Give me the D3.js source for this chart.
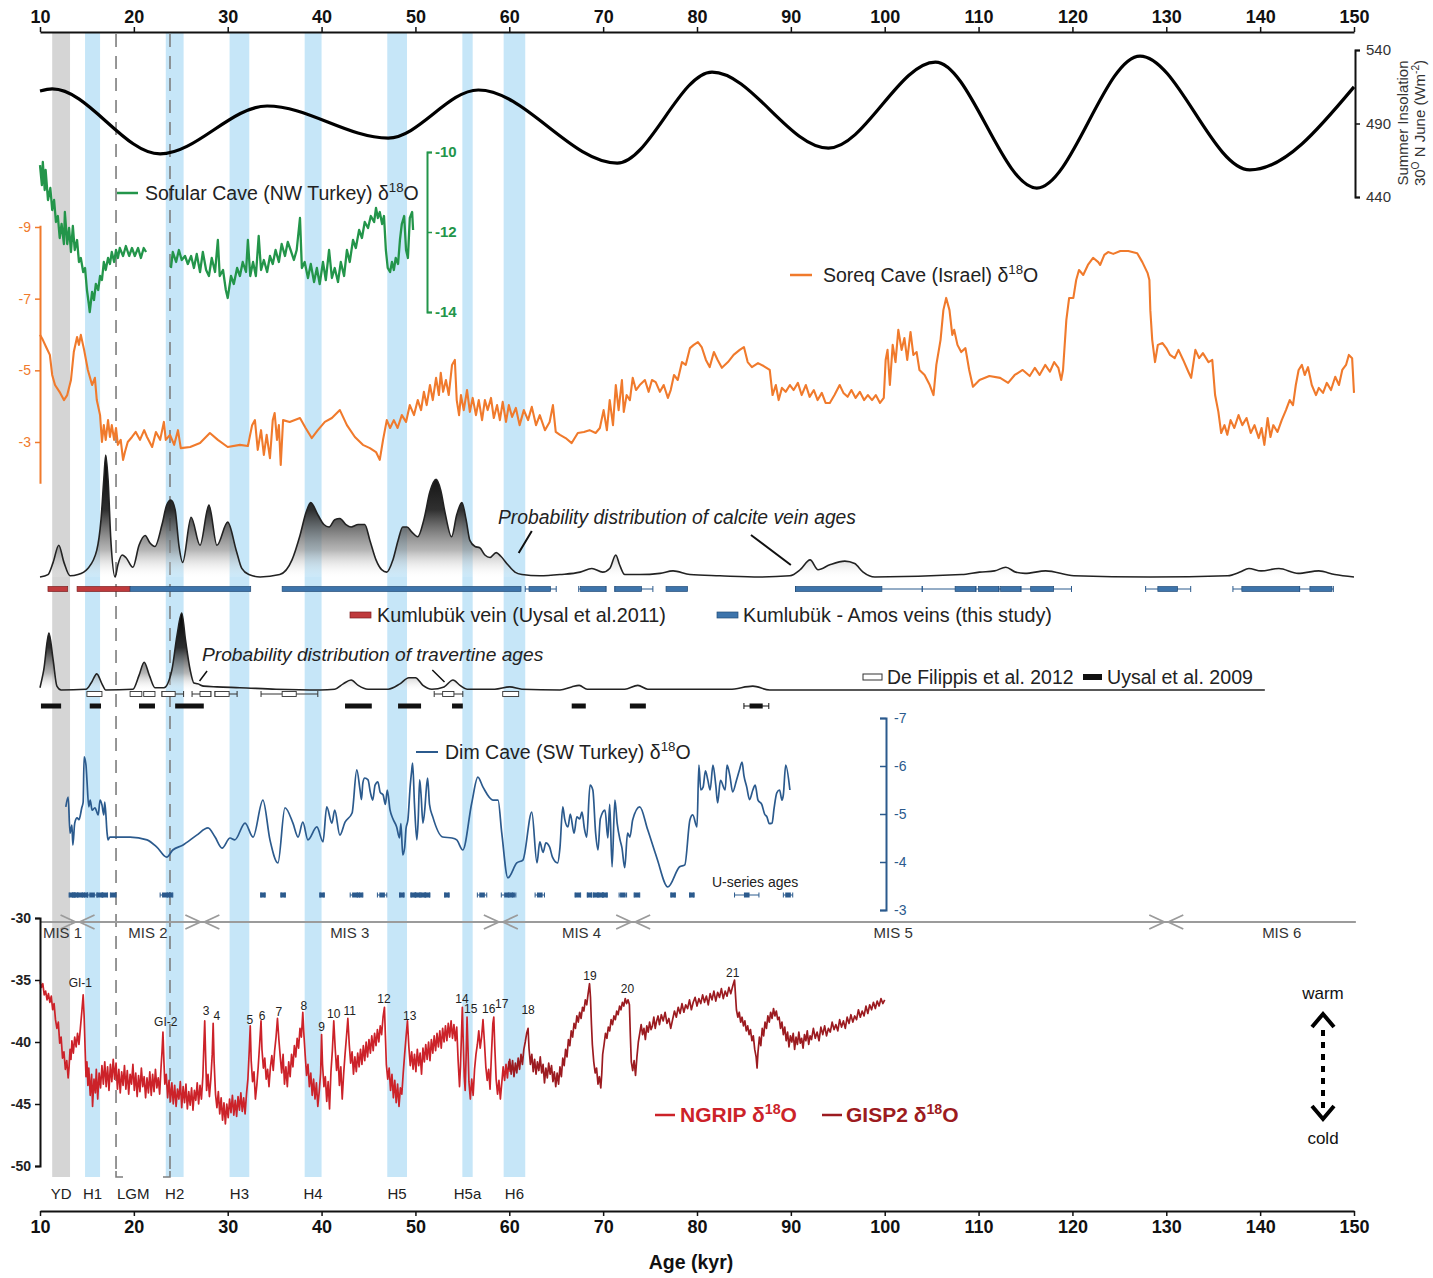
<!DOCTYPE html>
<html><head><meta charset="utf-8">
<script src="https://cdn.jsdelivr.net/npm/d3@7"></script>
<style>
body{margin:0;background:#fff}
svg{display:block;font-family:"Liberation Sans",Arial,Helvetica,sans-serif}
</style>
</head><body>
<svg id="chart" width="1433" height="1278"></svg>
<script>
// ---------------- DATA ----------------
const ageTicks = [10,20,30,40,50,60,70,80,90,100,110,120,130,140,150];

// Event bands (ka)
const bandNames = ["YD","H1","H2","H3","H4","H5","H5a","H6"];
const bandStart = [11.3,14.8,23.4,30.2,38.2,47.0,55.0,59.4];
const bandEnd   = [13.2,16.4,25.3,32.3,40.0,49.1,56.1,61.7];
const lgmBounds = [18.1,23.85];

// Summer insolation 30N June (W/m2)
const insAges = [10,11.3,22.8,34.2,47.1,56.7,71.5,81.6,94.0,105.4,116.2,127.2,138.9,150];
const insVals = [512.1,513.5,469.3,501.9,480.1,512.8,463.1,525.0,473.3,531.8,446.1,535.9,458.4,514.9];
const insTicks = [440,490,540];

// Sofular Cave d18O (two segments)
const sofularA = [[10.0,-10.33],[10.2,-10.83],[10.3,-10.25],[10.5,-10.95],[10.6,-10.45],[10.85,-11.2],[11.1,-10.9],[11.3,-11.45],[11.5,-11.2],[11.7,-11.75],[11.9,-11.6],[12.1,-12.15],[12.3,-11.8],[12.55,-12.3],[12.65,-11.5],[12.9,-12.3],[13.1,-11.9],[13.3,-12.5],[13.5,-11.85],[13.7,-12.45],[13.95,-12.2],[14.15,-12.75],[14.35,-12.65],[14.6,-13.0],[14.8,-12.9],[15.0,-13.45],[15.2,-13.8],[15.3,-14.0],[15.55,-13.5],[15.75,-13.7],[15.95,-13.3],[16.2,-13.45],[16.4,-13.1],[16.6,-13.2],[16.8,-12.75],[17.0,-12.95],[17.25,-12.65],[17.45,-12.8],[17.65,-12.5],[17.9,-12.75],[18.1,-12.45],[18.3,-12.65],[18.5,-12.4],[18.85,-12.6],[19.15,-12.35],[19.5,-12.6],[19.8,-12.4],[20.1,-12.6],[20.45,-12.4],[20.75,-12.65],[21.05,-12.4],[21.3,-12.5]];
const sofularB = [[23.95,-12.9],[24.15,-12.5],[24.5,-12.75],[24.8,-12.45],[25.1,-12.7],[25.45,-12.6],[25.75,-12.8],[26.1,-12.6],[26.4,-12.9],[26.7,-12.55],[27.05,-13.0],[27.35,-12.5],[27.7,-12.95],[28.0,-13.1],[28.3,-12.65],[28.65,-13.0],[28.95,-12.2],[29.15,-13.1],[29.5,-12.95],[29.8,-13.45],[30.0,-13.65],[30.35,-13.1],[30.65,-13.3],[31.0,-12.9],[31.3,-13.1],[31.6,-12.75],[31.95,-13.0],[32.15,-12.2],[32.4,-13.1],[32.7,-12.75],[33.0,-13.1],[33.3,-12.1],[33.55,-12.95],[33.85,-12.7],[34.2,-13.0],[34.5,-12.6],[34.8,-12.8],[35.1,-12.45],[35.45,-12.75],[35.75,-12.3],[36.1,-12.6],[36.4,-12.25],[36.7,-12.45],[37.05,-12.7],[37.35,-12.45],[37.7,-11.65],[37.9,-12.9],[38.2,-12.75],[38.55,-13.15],[38.85,-12.8],[39.2,-13.25],[39.5,-12.9],[39.8,-13.3],[40.15,-12.75],[40.45,-13.2],[40.8,-12.45],[41.1,-13.15],[41.4,-12.9],[41.75,-13.25],[42.05,-12.75],[42.4,-13.1],[42.7,-12.45],[43.0,-12.75],[43.35,-12.2],[43.65,-12.4],[44.0,-11.95],[44.3,-12.15],[44.6,-11.75],[44.95,-11.9],[45.25,-11.6],[45.6,-11.75],[45.8,-11.4],[46.0,-11.65],[46.2,-11.5],[46.45,-11.8],[46.65,-11.6],[46.85,-12.45],[47.05,-12.9],[47.3,-13.0],[47.5,-12.75],[47.7,-12.95],[47.9,-12.65],[48.15,-12.8],[48.35,-12.2],[48.55,-11.8],[48.8,-11.6],[49.0,-12.45],[49.2,-12.65],[49.4,-11.65],[49.65,-11.5],[49.75,-11.95]];
const sofTicks = [-10,-12,-14];

// Soreq Cave d18O
const soreq = [[10.0,-5.99],[10.3,-5.85],[10.65,-5.65],[11.05,-5.43],[11.3,-4.87],[11.6,-4.59],[12.15,-4.37],[12.55,-4.17],[12.9,-4.31],[13.3,-4.73],[13.6,-5.51],[13.95,-5.93],[14.15,-5.71],[14.35,-5.99],[14.7,-5.57],[15.1,-5.01],[15.55,-4.59],[15.85,-4.79],[16.05,-4.17],[16.4,-3.75],[16.6,-3.0],[16.8,-3.47],[17.0,-3.06],[17.25,-3.61],[17.45,-3.14],[17.65,-3.47],[17.9,-3.06],[18.1,-3.39],[18.3,-2.92],[18.6,-3.06],[18.85,-2.5],[19.05,-2.72],[19.35,-3.0],[19.8,-3.14],[20.2,-3.28],[20.65,-3.06],[21.1,-3.33],[21.4,-3.14],[21.95,-2.86],[22.35,-3.28],[22.8,-3.06],[23.2,-3.56],[23.4,-3.06],[23.85,-3.2],[24.3,-2.92],[24.7,-3.33],[25.0,-2.83],[26.0,-2.86],[27.05,-2.97],[28.1,-3.25],[28.95,-3.06],[30.0,-2.86],[31.3,-2.92],[32.15,-2.89],[32.6,-3.47],[32.9,-3.61],[33.2,-2.78],[33.55,-3.33],[33.85,-2.64],[34.15,-3.2],[34.5,-2.55],[34.8,-3.61],[35.0,-3.81],[35.25,-3.06],[35.45,-3.47],[35.65,-2.36],[35.9,-3.61],[36.6,-3.56],[37.7,-3.67],[38.3,-3.39],[38.95,-3.11],[39.6,-3.33],[40.35,-3.56],[41.1,-3.67],[41.95,-3.89],[42.7,-3.47],[43.55,-3.14],[44.4,-2.92],[45.15,-2.83],[45.8,-2.72],[46.2,-2.5],[46.55,-3.06],[46.95,-3.61],[47.3,-3.39],[47.7,-3.61],[48.1,-3.39],[48.55,-3.75],[49.0,-3.56],[49.4,-4.03],[49.85,-3.75],[50.25,-4.17],[50.6,-3.89],[50.9,-4.4],[51.2,-4.03],[51.55,-4.59],[51.85,-4.17],[52.2,-4.79],[52.5,-4.31],[52.7,-4.93],[52.95,-4.4],[53.25,-4.73],[53.55,-4.31],[53.9,-5.15],[54.2,-5.29],[54.4,-4.17],[54.65,-3.75],[54.85,-4.31],[55.15,-3.89],[55.5,-4.45],[55.8,-3.84],[56.1,-4.23],[56.45,-3.75],[56.75,-4.17],[57.1,-3.61],[57.4,-4.17],[57.7,-3.89],[58.05,-4.23],[58.35,-3.67],[58.7,-4.03],[59.0,-3.61],[59.3,-4.12],[59.65,-3.56],[59.95,-4.03],[60.3,-3.7],[60.7,-3.95],[61.1,-3.47],[61.55,-3.89],[62.0,-3.61],[62.4,-3.98],[62.85,-3.47],[63.25,-3.75],[63.8,-3.33],[64.3,-3.56],[64.65,-4.03],[64.95,-3.28],[65.4,-3.2],[66.0,-3.11],[66.65,-2.97],[67.3,-3.25],[67.95,-3.28],[68.55,-3.33],[69.2,-3.25],[69.65,-3.39],[70.05,-3.89],[70.4,-3.33],[70.7,-4.17],[71.05,-3.47],[71.35,-4.59],[71.65,-3.89],[72.0,-4.73],[72.2,-3.84],[72.5,-4.31],[72.85,-4.17],[73.15,-4.79],[73.5,-4.45],[73.9,-4.59],[74.45,-4.73],[74.85,-4.4],[75.2,-4.73],[75.6,-4.67],[76.05,-4.4],[76.45,-4.59],[76.9,-4.23],[77.2,-4.45],[77.55,-4.87],[77.95,-4.73],[78.4,-5.23],[78.8,-5.15],[79.25,-5.62],[79.65,-5.71],[80.1,-5.79],[80.5,-5.65],[80.95,-5.29],[81.35,-5.09],[81.8,-5.51],[82.2,-5.29],[82.65,-5.07],[83.3,-5.23],[83.9,-5.43],[84.55,-5.57],[85.0,-5.65],[85.4,-5.23],[85.85,-5.09],[86.5,-5.2],[87.1,-5.12],[87.75,-5.01],[88.05,-4.31],[88.4,-4.59],[88.7,-4.17],[89.05,-4.51],[89.45,-4.4],[89.9,-4.59],[90.3,-4.45],[90.75,-4.65],[91.15,-4.31],[91.6,-4.59],[92.0,-4.26],[92.45,-4.45],[92.85,-4.17],[93.3,-4.37],[93.7,-4.09],[94.15,-4.09],[94.65,-4.31],[95.2,-4.59],[95.6,-4.37],[96.05,-4.26],[96.45,-4.45],[96.9,-4.23],[97.35,-4.4],[97.8,-4.17],[98.2,-4.31],[98.65,-4.17],[99.05,-4.31],[99.5,-4.09],[99.9,-4.23],[100.1,-5.29],[100.3,-5.57],[100.55,-4.59],[100.85,-5.71],[101.15,-5.23],[101.45,-6.13],[101.8,-5.57],[102.1,-5.9],[102.4,-5.29],[102.75,-6.07],[103.05,-5.43],[103.4,-5.51],[103.7,-5.01],[104.25,-4.87],[104.8,-4.59],[105.2,-4.31],[105.5,-5.15],[105.95,-5.85],[106.25,-6.68],[106.55,-7.02],[106.9,-6.68],[107.2,-5.99],[107.4,-6.13],[107.75,-5.71],[108.15,-5.51],[108.6,-5.62],[109.0,-5.01],[109.4,-4.54],[110.1,-4.73],[111.15,-4.84],[112.3,-4.79],[113.15,-4.65],[113.85,-4.87],[114.7,-5.01],[115.45,-4.84],[116.0,-5.07],[116.5,-4.87],[117.1,-5.15],[117.6,-4.96],[118.05,-5.23],[118.5,-5.07],[118.8,-4.73],[119.0,-5.01],[119.35,-6.4],[119.65,-7.02],[120.1,-7.02],[120.4,-7.52],[120.7,-7.8],[121.15,-7.66],[121.65,-7.94],[122.2,-8.14],[122.75,-8.02],[122.95,-7.94],[123.4,-8.22],[123.8,-8.3],[124.35,-8.25],[125.1,-8.33],[125.95,-8.33],[126.9,-8.27],[127.45,-8.02],[128.0,-7.72],[128.2,-7.52],[128.3,-6.68],[128.5,-5.85],[128.8,-5.23],[129.1,-5.71],[129.6,-5.76],[130.0,-5.62],[130.4,-5.43],[130.9,-5.34],[131.3,-5.57],[131.8,-5.29],[132.35,-4.96],[132.65,-4.79],[133.1,-5.57],[133.5,-5.34],[133.9,-5.48],[134.5,-5.23],[134.9,-5.29],[135.2,-4.31],[135.55,-3.84],[135.85,-3.25],[136.2,-3.47],[136.5,-3.2],[136.85,-3.61],[137.25,-3.39],[137.7,-3.75],[138.1,-3.47],[138.55,-3.67],[139.0,-3.25],[139.4,-3.47],[139.85,-3.11],[140.15,-3.39],[140.45,-2.92],[140.8,-3.67],[141.1,-3.14],[141.4,-3.47],[141.85,-3.28],[142.3,-3.61],[142.75,-3.89],[143.15,-4.17],[143.5,-4.03],[143.8,-4.59],[144.1,-5.01],[144.45,-5.15],[144.75,-4.87],[145.1,-5.09],[145.5,-4.59],[145.95,-4.31],[146.25,-4.51],[146.7,-4.37],[147.1,-4.65],[147.55,-4.45],[148.0,-4.82],[148.4,-4.59],[148.75,-5.01],[149.15,-5.15],[149.45,-5.43],[149.8,-5.34],[150.0,-4.37]];
const soreqTicks = [-9,-7,-5,-3];

// Probability distribution of calcite vein ages (relative)
const calcite = [[10.0,0],[10.85,0.02],[11.4,0.12],[12.0,0.26],[12.55,0.12],[13.2,0.01],[14.05,0.02],[15.1,0.07],[16.05,0.22],[16.5,0.47],[16.8,0.8],[17.0,1.0],[17.25,0.8],[17.55,0.3],[18.0,0],[18.3,0.1],[18.75,0.18],[19.15,0.16],[19.9,0.08],[20.55,0.26],[21.2,0.34],[21.7,0.28],[22.25,0.25],[23.0,0.43],[23.5,0.59],[23.95,0.63],[24.4,0.55],[24.8,0.26],[25.2,0.12],[26.1,0.49],[27.05,0.26],[28.0,0.59],[28.85,0.26],[30.0,0.45],[30.9,0.22],[31.5,0.07],[32.25,0.02],[33.45,0],[35.55,0.02],[36.85,0.14],[37.7,0.34],[38.35,0.53],[38.85,0.61],[39.6,0.51],[40.25,0.43],[40.8,0.41],[41.4,0.47],[41.95,0.48],[42.6,0.43],[43.15,0.41],[43.9,0.43],[44.6,0.43],[45.15,0.3],[45.8,0.14],[46.4,0.06],[46.95,0.04],[47.6,0.14],[48.15,0.3],[48.65,0.41],[49.1,0.41],[49.6,0.37],[50.25,0.33],[50.9,0.47],[51.55,0.7],[52.2,0.8],[52.7,0.71],[53.15,0.53],[53.85,0.33],[54.4,0.51],[54.95,0.61],[55.4,0.47],[55.8,0.3],[56.35,0.25],[56.85,0.24],[57.4,0.18],[57.95,0.16],[58.6,0.2],[59.1,0.17],[59.85,0.1],[60.6,0.04],[61.35,0.02],[63.25,0.01],[65.4,0.02],[67.55,0.04],[68.8,0.07],[69.95,0.04],[70.7,0.07],[71.35,0.18],[71.75,0.1],[72.3,0.02],[73.9,0.02],[76.05,0.03],[77.45,0.05],[79.25,0.02],[82.45,0.01],[86.7,0],[89.9,0.01],[91.0,0.06],[92.05,0.14],[92.9,0.06],[94.15,0.1],[95.75,0.13],[96.8,0.11],[97.7,0.04],[98.95,0],[108.2,0.02],[110.1,0.04],[111.7,0.05],[112.9,0.08],[113.95,0.04],[114.95,0.03],[117.15,0.05],[120.15,0.01],[128.3,0],[136.55,0.01],[137.85,0.04],[138.8,0.07],[140.1,0.05],[142.0,0.07],[144.05,0.03],[146.25,0.05],[147.95,0.02],[150.0,0]];

// Kumlubük vein ages
const kumRed = [[10.85,12.95],[13.95,19.6]];
const kumBlue = [[19.6,19.6,32.45,32.45],[35.8,35.8,61.25,61.25],[61.7,62.1,64.4,65.0],[67.4,67.6,70.3,70.3],[71.25,71.25,74.1,75.3],[76.7,76.7,79.0,79.0],[90.5,90.5,99.7,104.0],[104.0,107.5,109.7,109.7],[109.7,110.0,112.15,112.15],[112.15,112.35,114.5,114.5],[114.5,115.55,118.0,119.9],[127.8,129.1,131.2,132.6],[137.1,138.05,144.2,144.2],[144.2,145.3,147.65,147.8]];

// Probability distribution of travertine ages (relative)
const travertine = [[10.0,0.03],[10.4,0.26],[10.95,0.74],[11.4,0.39],[11.8,0.05],[12.25,0],[14.9,0.01],[15.45,0.09],[16.05,0.21],[16.6,0.08],[17.0,0],[19.9,0.01],[20.55,0.19],[21.1,0.36],[21.65,0.19],[22.25,0.03],[23.2,0.03],[24.05,0.26],[24.6,0.71],[25.1,1.0],[25.5,0.65],[26.0,0.26],[26.4,0.09],[26.8,0.08],[27.45,0.05],[28.85,0.04],[31.3,0.03],[35.15,0.01],[39.85,0],[41.4,0.01],[42.3,0.08],[43.15,0.13],[43.9,0.06],[44.95,0.01],[47.1,0.01],[48.35,0.08],[49.3,0.16],[50.0,0.16],[50.8,0.06],[51.75,0.01],[53.05,0.04],[54.0,0.13],[54.75,0.06],[55.5,0.01],[58.45,0.01],[60.05,0.04],[61.35,0.01],[65.4,0],[66.65,0.04],[67.45,0.06],[68.3,0.01],[72.3,0.01],[73.7,0.06],[74.75,0.01],[83.5,0.01],[85.95,0.05],[87.75,0],[140.5,0]];
const deFilippis = [[15.0,15.0,16.6,16.6],[19.6,19.6,20.85,20.85],[21.05,21.05,22.25,22.25],[23.0,23.0,24.4,25.3],[26.2,27.05,28.2,28.2],[28.65,28.65,30.15,31.0],[33.55,35.8,37.3,39.6],[52.0,52.9,54.1,55.05],[59.3,59.3,61.0,61.0]];
const uysal2009 = [[10.1,12.25],[15.3,16.5],[20.55,22.25],[24.4,27.45],[42.5,45.35],[48.15,50.6],[53.9,55.05],[66.65,68.15],[72.85,74.55],[85.6,87.0]];

// Dim Cave d18O
const dim = [[12.75,-5.15],[13.0,-5.35],[13.2,-4.6],[13.4,-4.77],[13.5,-4.35],[13.7,-4.81],[13.95,-4.92],[14.15,-4.88],[14.45,-5.13],[14.6,-5.25],[14.7,-6.19],[14.9,-6.02],[15.0,-5.71],[15.2,-5.15],[15.35,-5.29],[15.55,-5.08],[15.85,-5.13],[16.2,-4.98],[16.4,-5.29],[16.6,-5.19],[16.8,-4.98],[16.9,-5.25],[17.15,-4.6],[17.25,-4.46],[17.45,-4.52],[17.8,-4.52],[19.6,-4.52],[21.4,-4.46],[22.45,-4.31],[23.5,-4.1],[24.15,-4.25],[25.2,-4.35],[26.7,-4.56],[27.9,-4.71],[28.65,-4.52],[29.4,-4.29],[30.25,-4.5],[30.75,-4.46],[31.85,-4.81],[32.7,-4.52],[33.75,-5.29],[34.5,-4.46],[35.35,-3.98],[36.1,-5.13],[36.95,-4.81],[37.5,-4.52],[38.0,-4.83],[38.55,-4.46],[39.5,-4.73],[40.15,-4.42],[40.55,-5.15],[41.1,-4.81],[41.4,-5.08],[41.95,-4.56],[42.5,-4.83],[43.25,-5.02],[43.75,-5.92],[44.1,-5.5],[44.25,-5.3],[44.4,-5.65],[44.6,-5.75],[44.95,-5.71],[45.2,-5.45],[45.45,-5.29],[45.7,-5.6],[46.0,-5.67],[46.25,-5.45],[46.55,-5.4],[46.8,-5.2],[47.0,-5.5],[47.3,-5.08],[47.6,-4.9],[48.0,-4.73],[48.3,-4.5],[48.45,-4.8],[48.65,-4.15],[48.85,-4.3],[49.0,-4.7],[49.2,-4.88],[49.45,-5.6],[49.6,-5.9],[49.7,-6.06],[49.9,-5.2],[50.15,-4.46],[50.3,-4.9],[50.45,-5.71],[50.6,-5.4],[50.8,-4.81],[51.0,-5.1],[51.15,-5.5],[51.3,-5.75],[51.5,-5.2],[51.85,-4.94],[52.9,-4.52],[53.9,-4.5],[54.4,-4.46],[55.05,-4.25],[56.0,-5.23],[56.65,-5.77],[57.2,-5.56],[58.25,-5.29],[58.8,-5.29],[59.2,-4.6],[59.85,-3.67],[60.8,-3.98],[61.45,-4.04],[62.4,-5.04],[62.95,-3.98],[63.25,-4.42],[63.6,-4.2],[63.9,-4.4],[64.3,-4.31],[64.6,-4.1],[65.15,-3.98],[65.4,-4.3],[65.7,-5.15],[65.9,-4.9],[66.25,-4.73],[66.5,-5.0],[66.9,-4.6],[67.2,-4.94],[67.5,-4.9],[67.75,-5.04],[68.0,-4.7],[68.25,-4.52],[68.6,-5.6],[68.9,-5.5],[69.2,-4.6],[69.45,-4.25],[69.7,-4.9],[70.2,-5.08],[70.5,-4.5],[70.7,-5.2],[70.95,-3.9],[71.25,-5.29],[71.5,-4.8],[71.8,-4.46],[72.0,-4.3],[72.3,-3.88],[72.6,-4.6],[72.85,-4.52],[73.15,-4.88],[73.9,-5.15],[74.75,-4.67],[75.7,-4.1],[76.9,-3.48],[78.15,-3.9],[78.7,-3.94],[79.25,-4.88],[79.55,-4.98],[80.0,-4.73],[80.2,-6.02],[80.4,-5.5],[80.65,-5.56],[80.9,-5.9],[81.15,-5.71],[81.4,-5.5],[81.7,-6.02],[82.0,-5.6],[82.2,-5.23],[82.5,-5.7],[83.0,-5.5],[83.2,-6.02],[83.5,-5.8],[83.8,-5.46],[84.2,-5.7],[84.5,-5.9],[84.8,-6.08],[85.0,-5.8],[85.3,-5.56],[85.6,-5.3],[85.95,-5.5],[86.2,-5.6],[86.5,-5.29],[86.9,-5.2],[87.2,-5.0],[87.45,-4.94],[87.7,-4.8],[88.0,-4.81],[88.2,-5.1],[88.5,-5.44],[88.8,-5.5],[89.05,-5.29],[89.2,-5.4],[89.45,-6.02],[89.9,-5.5]];
const dimTicks = [-7,-6,-5,-4,-3];
const uSeriesAges = [13.4,13.75,14.25,14.8,15.55,16.4,16.9,17.8,23.3,23.85,33.75,35.9,40.05,43.55,44.1,46.45,48.55,49.75,50.25,50.8,51.3,53.35,57.1,59.75,60.3,63.25,67.3,68.55,69.2,69.75,70.2,72.1,73.6,77.45,79.45,85.3,89.7];
const uSeriesErr  = [0.3,0.3,0.5,0.3,0.5,0.3,0.3,0.3,0.5,0.3,0.2,0.2,0.2,0.5,0.3,0.5,0.2,0.2,0.2,0.2,0.2,0.2,0.5,0.6,0.4,0.5,0.3,0.2,0.2,0.2,0.2,0.4,0.3,0.2,0.2,1.3,0.5];

// Marine isotope stages
const misBounds = [14.0,27.3,59.1,73.2,130.0];
const misLabels = ["MIS 1","MIS 2","MIS 3","MIS 4","MIS 5","MIS 6"];
const misLabelAges = [12.4,21.5,43.0,67.7,100.9,142.3];

// NGRIP d18O
const ngrip = [[10.0,-35.1],[10.15,-35.6],[10.3,-35.3],[10.45,-36.2],[10.6,-35.9],[10.75,-36.6],[10.9,-36.1],[11.05,-36.8],[11.2,-36.3],[11.35,-37.4],[11.5,-36.9],[11.65,-38.2],[11.8,-38.9],[11.95,-38.4],[12.1,-40.1],[12.25,-39.6],[12.4,-41.3],[12.55,-40.8],[12.7,-42.2],[12.85,-41.5],[13.0,-42.9],[13.1,-42.0],[13.2,-40.6],[13.3,-41.4],[13.4,-39.9],[13.55,-40.9],[13.7,-39.6],[13.85,-40.4],[14.0,-39.3],[14.15,-40.2],[14.3,-38.9],[14.45,-37.6],[14.6,-36.2],[14.7,-37.9],[14.8,-40.4],[14.9,-42.8],[15.0,-41.6],[15.1,-43.5],[15.2,-42.1],[15.35,-44.3],[15.5,-42.6],[15.6,-45.2],[15.75,-43.0],[15.9,-44.1],[16.0,-42.2],[16.15,-44.6],[16.3,-42.5],[16.45,-43.7],[16.6,-41.9],[16.75,-43.4],[16.9,-41.6],[17.05,-43.6],[17.2,-42.0],[17.35,-43.9],[17.5,-41.8],[17.65,-43.2],[17.8,-41.4],[17.95,-43.0],[18.1,-41.7],[18.25,-43.8],[18.4,-42.2],[18.55,-44.1],[18.7,-42.4],[18.85,-43.5],[19.0,-41.9],[19.15,-43.8],[19.3,-42.3],[19.45,-44.2],[19.6,-42.6],[19.75,-43.4],[19.9,-41.8],[20.05,-43.9],[20.2,-42.5],[20.35,-44.4],[20.5,-42.7],[20.65,-44.0],[20.8,-42.1],[20.95,-43.6],[21.1,-42.8],[21.25,-44.5],[21.4,-42.9],[21.55,-44.1],[21.7,-42.4],[21.85,-44.3],[22.0,-42.6],[22.15,-44.0],[22.3,-42.2],[22.45,-43.7],[22.6,-42.9],[22.75,-44.2],[22.9,-42.0],[23.0,-40.8],[23.1,-39.2],[23.2,-41.5],[23.3,-43.4],[23.45,-42.6],[23.6,-44.5],[23.75,-43.1],[23.9,-44.8],[24.05,-43.3],[24.2,-45.0],[24.35,-43.5],[24.5,-45.2],[24.65,-43.8],[24.8,-44.6],[24.95,-43.2],[25.1,-45.3],[25.25,-43.6],[25.4,-44.9],[25.55,-43.4],[25.7,-45.4],[25.85,-44.0],[26.0,-45.1],[26.15,-43.7],[26.3,-45.5],[26.45,-43.9],[26.6,-44.7],[26.75,-43.3],[26.9,-45.0],[27.05,-43.5],[27.2,-44.6],[27.35,-42.8],[27.45,-40.5],[27.55,-38.3],[27.65,-41.2],[27.75,-43.9],[27.9,-42.6],[28.05,-44.4],[28.2,-43.0],[28.35,-41.0],[28.45,-38.5],[28.55,-41.6],[28.7,-44.2],[28.85,-45.3],[29.0,-44.0],[29.15,-45.8],[29.3,-44.5],[29.45,-46.3],[29.6,-44.9],[29.75,-46.6],[29.9,-45.0],[30.05,-46.1],[30.2,-44.6],[30.35,-45.7],[30.5,-44.3],[30.65,-45.9],[30.8,-44.7],[30.95,-46.0],[31.1,-44.4],[31.25,-45.5],[31.4,-44.1],[31.55,-45.6],[31.7,-44.5],[31.85,-45.8],[32.0,-44.2],[32.15,-43.0],[32.3,-40.6],[32.4,-38.7],[32.5,-41.5],[32.65,-43.2],[32.8,-42.4],[32.95,-44.6],[33.1,-43.5],[33.25,-42.0],[33.4,-40.2],[33.55,-38.3],[33.65,-40.6],[33.8,-42.1],[33.95,-41.3],[34.1,-43.0],[34.25,-42.2],[34.4,-43.6],[34.55,-42.0],[34.7,-41.1],[34.85,-42.3],[35.0,-40.7],[35.15,-39.6],[35.3,-38.1],[35.45,-39.8],[35.6,-41.2],[35.75,-42.5],[35.9,-41.0],[36.05,-43.4],[36.2,-42.0],[36.35,-43.6],[36.5,-41.6],[36.65,-42.8],[36.8,-41.0],[36.95,-42.0],[37.1,-40.3],[37.25,-41.2],[37.4,-39.7],[37.55,-40.5],[37.7,-38.9],[37.85,-39.6],[38.0,-37.6],[38.1,-39.2],[38.25,-41.0],[38.4,-42.7],[38.55,-41.8],[38.7,-43.6],[38.85,-42.5],[39.0,-44.3],[39.15,-43.0],[39.3,-44.6],[39.45,-43.3],[39.6,-45.2],[39.75,-44.0],[39.9,-42.5],[40.0,-39.4],[40.1,-41.8],[40.25,-43.6],[40.4,-42.8],[40.55,-44.8],[40.7,-43.2],[40.85,-45.4],[41.0,-42.4],[41.15,-40.7],[41.3,-38.3],[41.45,-40.5],[41.6,-42.3],[41.75,-41.1],[41.9,-43.5],[42.05,-42.0],[42.2,-44.6],[42.35,-42.6],[42.5,-41.0],[42.65,-39.6],[42.8,-38.1],[42.95,-40.2],[43.1,-41.7],[43.25,-40.8],[43.4,-42.6],[43.55,-41.2],[43.7,-42.4],[43.85,-40.9],[44.0,-42.0],[44.15,-40.6],[44.3,-41.8],[44.45,-40.3],[44.6,-41.5],[44.75,-40.0],[44.9,-41.2],[45.05,-39.8],[45.2,-40.9],[45.35,-39.5],[45.5,-40.7],[45.65,-39.3],[45.8,-40.3],[45.95,-39.0],[46.1,-40.0],[46.25,-38.7],[46.4,-39.4],[46.55,-38.0],[46.7,-37.2],[46.8,-39.5],[46.9,-41.8],[47.05,-43.0],[47.2,-42.1],[47.35,-43.9],[47.5,-42.6],[47.65,-44.5],[47.8,-43.1],[47.95,-44.9],[48.1,-43.4],[48.25,-45.2],[48.4,-43.7],[48.55,-44.2],[48.7,-42.5],[48.85,-41.0],[49.0,-39.6],[49.15,-38.3],[49.3,-40.4],[49.45,-41.9],[49.6,-40.8],[49.75,-42.2],[49.9,-41.0],[50.05,-42.4],[50.2,-40.6],[50.35,-41.9],[50.5,-40.9],[50.65,-42.6],[50.8,-40.5],[50.95,-41.6],[51.1,-40.2],[51.25,-41.4],[51.4,-40.0],[51.55,-41.5],[51.7,-39.8],[51.85,-40.9],[52.0,-39.5],[52.15,-40.7],[52.3,-39.3],[52.45,-40.4],[52.6,-39.1],[52.75,-40.5],[52.9,-38.9],[53.05,-40.0],[53.2,-38.7],[53.35,-39.9],[53.5,-38.5],[53.65,-39.6],[53.8,-38.3],[53.95,-39.7],[54.1,-38.6],[54.25,-39.9],[54.4,-38.8],[54.55,-41.5],[54.7,-43.6],[54.8,-42.0],[54.9,-39.5],[55.0,-37.2],[55.1,-40.1],[55.2,-42.8],[55.3,-43.9],[55.4,-41.2],[55.5,-38.0],[55.6,-40.5],[55.7,-43.2],[55.85,-44.6],[56.0,-43.0],[56.15,-44.3],[56.3,-42.2],[56.45,-41.0],[56.6,-40.2],[56.75,-39.1],[56.9,-40.5],[57.05,-39.6],[57.2,-38.2],[57.35,-40.0],[57.5,-42.0],[57.65,-43.1],[57.8,-42.2],[57.95,-43.8],[58.1,-41.0],[58.25,-38.5],[58.35,-38.0],[58.45,-40.3],[58.6,-43.0],[58.75,-44.2],[58.9,-43.1],[59.05,-44.6],[59.2,-43.3],[59.35,-42.0],[59.5,-43.1],[59.65,-41.8],[59.8,-42.9],[59.95,-41.6],[60.1,-42.4]];

// GISP2 d18O
const gisp2 = [[59.9,-42.2],[60.05,-41.4],[60.2,-42.6],[60.35,-41.5],[60.5,-42.8],[60.65,-41.7],[60.8,-42.5],[60.95,-41.3],[61.1,-42.2],[61.25,-41.0],[61.4,-41.8],[61.55,-40.6],[61.7,-40.0],[61.85,-39.3],[62.0,-38.9],[62.1,-40.5],[62.25,-41.8],[62.4,-41.0],[62.55,-42.4],[62.7,-41.4],[62.85,-42.6],[63.0,-41.6],[63.15,-42.3],[63.3,-41.2],[63.45,-42.5],[63.6,-41.8],[63.75,-43.3],[63.9,-42.1],[64.05,-42.9],[64.2,-41.7],[64.35,-42.6],[64.5,-41.9],[64.65,-43.2],[64.8,-42.4],[64.95,-43.6],[65.1,-42.5],[65.25,-43.4],[65.4,-42.0],[65.55,-42.8],[65.7,-41.3],[65.85,-41.9],[66.0,-40.6],[66.15,-41.2],[66.3,-39.8],[66.45,-40.3],[66.6,-39.1],[66.75,-39.6],[66.9,-38.5],[67.05,-38.9],[67.2,-37.9],[67.35,-38.4],[67.5,-37.6],[67.65,-38.1],[67.8,-37.2],[67.95,-37.5],[68.1,-36.6],[68.25,-37.0],[68.4,-36.1],[68.55,-35.3],[68.65,-36.4],[68.75,-38.5],[68.85,-40.2],[69.0,-41.6],[69.15,-42.5],[69.3,-42.1],[69.45,-43.4],[69.6,-42.8],[69.75,-43.7],[69.85,-42.6],[69.95,-41.0],[70.1,-40.2],[70.25,-39.3],[70.4,-39.7],[70.55,-38.8],[70.7,-39.1],[70.85,-38.2],[71.0,-38.6],[71.15,-37.9],[71.3,-38.2],[71.45,-37.5],[71.6,-37.8],[71.75,-37.1],[71.9,-37.4],[72.05,-36.8],[72.2,-37.1],[72.35,-36.5],[72.5,-36.9],[72.65,-36.6],[72.8,-37.0],[72.9,-39.5],[73.0,-41.6],[73.15,-42.3],[73.3,-41.5],[73.45,-42.7],[73.6,-41.2],[73.75,-40.0],[73.9,-39.3],[74.05,-38.6],[74.2,-39.4],[74.35,-38.9],[74.5,-39.8],[74.65,-38.7],[74.8,-39.2],[74.95,-38.4],[75.1,-39.0],[75.25,-38.7],[75.4,-38.0],[75.55,-38.9],[75.7,-38.3],[75.85,-37.9],[76.0,-38.6],[76.2,-37.8],[76.4,-38.3],[76.6,-37.6],[76.8,-38.5],[77.0,-38.1],[77.2,-38.9],[77.4,-38.2],[77.6,-37.5],[77.8,-38.0],[78.0,-37.2],[78.2,-37.7],[78.4,-36.9],[78.6,-37.6],[78.8,-37.0],[79.0,-37.3],[79.2,-36.6],[79.4,-37.4],[79.6,-36.8],[79.8,-36.4],[80.0,-37.1],[80.2,-36.5],[80.4,-36.9],[80.6,-36.2],[80.8,-36.8],[81.0,-36.3],[81.2,-37.0],[81.4,-36.1],[81.6,-36.6],[81.8,-35.9],[82.0,-36.7],[82.2,-36.0],[82.4,-36.4],[82.6,-35.7],[82.8,-36.5],[83.0,-35.9],[83.2,-36.3],[83.4,-35.6],[83.6,-36.1],[83.8,-35.5],[84.0,-35.0],[84.1,-36.2],[84.2,-37.4],[84.35,-38.0],[84.5,-37.6],[84.65,-38.4],[84.8,-38.0],[84.95,-38.7],[85.1,-38.3],[85.25,-39.1],[85.4,-38.7],[85.55,-39.4],[85.7,-39.0],[85.85,-39.9],[86.0,-39.5],[86.15,-40.6],[86.3,-41.2],[86.4,-42.1],[86.5,-40.8],[86.65,-39.6],[86.8,-40.3],[86.95,-38.9],[87.1,-39.5],[87.25,-38.4],[87.4,-38.9],[87.55,-37.9],[87.7,-38.4],[87.85,-37.6],[88.0,-38.1],[88.15,-37.3],[88.3,-37.9],[88.45,-37.5],[88.6,-38.2],[88.75,-38.0],[88.9,-38.9],[89.05,-38.4],[89.2,-39.4],[89.35,-38.8],[89.5,-39.9],[89.65,-39.2],[89.8,-40.4],[89.95,-39.5],[90.1,-40.0],[90.25,-39.3],[90.4,-40.6],[90.55,-39.6],[90.7,-40.2],[90.85,-39.2],[91.0,-40.1],[91.15,-39.7],[91.3,-40.5],[91.45,-39.4],[91.6,-39.9],[91.75,-39.1],[91.9,-40.2],[92.05,-39.5],[92.2,-39.8],[92.4,-38.9],[92.6,-39.7],[92.8,-39.2],[93.0,-39.9],[93.2,-38.8],[93.4,-39.4],[93.6,-38.7],[93.8,-39.5],[94.0,-38.9],[94.2,-39.2],[94.4,-38.4],[94.6,-39.0],[94.8,-38.6],[95.0,-39.1],[95.2,-38.2],[95.4,-38.8],[95.6,-38.3],[95.8,-38.9],[96.0,-38.0],[96.2,-38.5],[96.4,-37.8],[96.6,-38.4],[96.8,-37.9],[97.0,-38.2],[97.2,-37.4],[97.4,-38.0],[97.6,-37.5],[97.8,-37.9],[98.0,-37.1],[98.2,-37.7],[98.4,-37.0],[98.6,-37.4],[98.8,-36.8],[99.0,-37.3],[99.2,-36.7],[99.4,-37.1],[99.6,-36.5],[99.8,-36.9],[100.0,-36.6]];
const ngripTicks = [-30,-35,-40,-45,-50];

// Greenland interstadial labels: [label, age, value]
const giLabels = [["GI-1",14.3,-35.2],["GI-2",23.4,-38.4],["3",27.7,-37.5],["4",28.85,-37.9],["5",32.35,-38.2],["6",33.65,-37.9],["7",35.45,-37.6],["8",38.1,-37.1],["9",40.0,-38.8],["10",41.3,-37.7],["11",43.0,-37.5],["12",46.65,-36.5],["13",49.4,-37.9],["14",54.95,-36.5],["15",55.9,-37.3],["16",57.8,-37.3],["17",59.2,-36.9],["18",62.0,-37.4],["19",68.6,-34.7],["20",72.6,-35.7],["21",83.8,-34.4]];

// ---------------- STYLE ----------------
const C = {
  band:"#c6e6f8", yd:"#d5d5d5", dash:"#7d7d7d",
  green:"#23954a", orange:"#f07a2c", blue:"#2b5a8d",
  ngrip:"#cc2229", gisp:"#9c1b20", mis:"#9b9b9b",
  kRed:"#bf3a3c", kBlue:"#3d74ab", text:"#222"
};
const FONT = '"Liberation Sans",Arial,sans-serif';
const plain = d => `${d}`;

// ---------------- RENDER ----------------
const svg = d3.select("#chart");
const x = d3.scaleLinear().domain([10,150]).range([40,1354]);
const bandTop = 32, bandBottom = 1177;

const yIns = d3.scaleLinear().domain([440,540]).range([197,50]);
const ySof = d3.scaleLinear().domain([-14,-10]).range([312,152]);
const ySor = d3.scaleLinear().domain([-9.05,-1.85]).range([225.2,483.2]);
const yCal = d3.scaleLinear().domain([0,1]).range([577,455]);
const yTra = d3.scaleLinear().domain([0,1]).range([690,613]);
const yDim = d3.scaleLinear().domain([-7,-3]).range([718,910]);
const yNg  = d3.scaleLinear().domain([-50,-30]).range([1166,918]);

function rich(g, px, py, parts, fs, opts={}) {
  const t = g.append("text").attr("x",px).attr("y",py).attr("font-size",fs)
    .attr("fill", opts.fill || C.text);
  if (opts.weight) t.attr("font-weight", opts.weight);
  if (opts.anchor) t.attr("text-anchor", opts.anchor);
  if (opts.transform) t.attr("transform", opts.transform);
  let shift = 0;
  parts.forEach(([s, sup]) => {
    const target = sup ? -fs*0.4 : 0;
    const ts = t.append("tspan").text(s).attr("dy", target - shift);
    if (sup) ts.attr("font-size", fs*0.68);
    shift = target;
  });
  return t;
}
const d18 = (pre) => [[pre+"δ"],["18",1],["O"]];

// bands
const gB = svg.append("g");
gB.selectAll("rect").data(bandNames).join("rect")
  .attr("x",(d,i)=>x(bandStart[i])).attr("width",(d,i)=>x(bandEnd[i])-x(bandStart[i]))
  .attr("y",bandTop).attr("height",bandBottom-bandTop)
  .attr("fill",(d,i)=>i===0?C.yd:C.band);
gB.selectAll("text").data(bandNames).join("text")
  .attr("x",(d,i)=>x((bandStart[i]+bandEnd[i])/2)).attr("y",1199)
  .attr("text-anchor","middle").attr("font-size",15).attr("fill",C.text).text(d=>d);
gB.append("text").attr("x",x(lgmBounds[0])+1).attr("y",1199).attr("font-size",15)
  .attr("fill",C.text).text("LGM");
lgmBounds.forEach(a => {
  gB.append("line").attr("x1",x(a)).attr("x2",x(a)).attr("y1",bandTop+2).attr("y2",bandBottom)
    .attr("stroke",C.dash).attr("stroke-width",1.6).attr("stroke-dasharray","13,9");
});
gB.append("path").attr("fill","none").attr("stroke",C.dash).attr("stroke-width",1.6)
  .attr("d",`M${x(lgmBounds[0])},${bandBottom-6}V${bandBottom}h7 M${x(lgmBounds[1])},${bandBottom-6}V${bandBottom}h-7`);

// top & bottom axes
const axTop = svg.append("g").attr("transform","translate(0,32)")
  .call(d3.axisTop(x).tickValues(ageTicks).tickFormat(plain).tickSize(5).tickSizeOuter(0).tickPadding(4));
const axBot = svg.append("g").attr("transform","translate(0,1211)")
  .call(d3.axisBottom(x).tickValues(ageTicks).tickFormat(plain).tickSize(5).tickSizeOuter(0).tickPadding(4));
[axTop, axBot].forEach(a => {
  a.select(".domain").attr("stroke","#111").attr("stroke-width",2);
  a.selectAll(".tick line").attr("stroke","#111").attr("stroke-width",1.5);
  a.selectAll("text").attr("font-size",18).attr("font-weight","bold").attr("fill","#111").attr("font-family",FONT);
});
svg.append("text").attr("x",691).attr("y",1269).attr("text-anchor","middle")
  .attr("font-size",19.5).attr("font-weight","bold").attr("fill","#111").text("Age (kyr)");

// insolation
const insData = insAges.map((a,i)=>[a,insVals[i]]);
svg.append("path").datum(insData).attr("fill","none").attr("stroke","#000").attr("stroke-width",3.2)
  .attr("d", d3.line().x(d=>x(d[0])).y(d=>yIns(d[1])).curve(d3.curveMonotoneX));
const axIns = svg.append("g").attr("transform","translate(1355,0)")
  .call(d3.axisRight(yIns).tickValues(insTicks).tickFormat(plain).tickSize(5).tickPadding(6));
axIns.select(".domain").attr("stroke","#111").attr("stroke-width",2);
axIns.selectAll(".tick line").attr("stroke","#111").attr("stroke-width",1.5);
axIns.selectAll("text").attr("font-size",15).attr("fill","#333").attr("font-family",FONT);
rich(svg,0,0,[["Summer Insolation"]],15,{anchor:"middle",fill:"#333",transform:"translate(1408,123) rotate(-90)"});
rich(svg,0,0,[["30"],["O",1],[" N June (Wm"],["-2",1],[")"]],15,{anchor:"middle",fill:"#333",transform:"translate(1425,123) rotate(-90)"});

// Sofular
const lineXY = (ys) => d3.line().x(d=>x(d[0])).y(d=>ys(d[1]));
[sofularA, sofularB].forEach(seg => {
  svg.append("path").datum(seg).attr("fill","none").attr("stroke",C.green).attr("stroke-width",2.3)
    .attr("stroke-linejoin","round").attr("d", lineXY(ySof));
});
const axSof = svg.append("g").attr("transform","translate(427,0)")
  .call(d3.axisRight(ySof).tickValues(sofTicks).tickFormat(plain).tickSize(5).tickPadding(3));
axSof.select(".domain").attr("stroke",C.green).attr("stroke-width",2);
axSof.selectAll(".tick line").attr("stroke",C.green).attr("stroke-width",1.5);
axSof.selectAll("text").attr("font-size",15).attr("font-weight","bold").attr("fill",C.green).attr("font-family",FONT);
svg.append("line").attr("x1",117).attr("x2",138).attr("y1",193).attr("y2",193).attr("stroke",C.green).attr("stroke-width",2.5);
rich(svg,145,200,d18("Sofular Cave (NW Turkey) "),19.5);

// Soreq
svg.append("path").datum(soreq).attr("fill","none").attr("stroke",C.orange).attr("stroke-width",2.1)
  .attr("stroke-linejoin","round").attr("d", lineXY(ySor));
const axSor = svg.append("g").attr("transform","translate(40,0)")
  .call(d3.axisLeft(ySor).tickValues(soreqTicks).tickFormat(plain).tickSize(5).tickSizeOuter(0).tickPadding(4));
axSor.select(".domain").attr("stroke",C.orange).attr("stroke-width",2);
axSor.selectAll(".tick line").attr("stroke",C.orange).attr("stroke-width",1.5);
axSor.selectAll("text").attr("font-size",14).attr("fill",C.orange).attr("font-family",FONT);
svg.append("line").attr("x1",790).attr("x2",812).attr("y1",275).attr("y2",275).attr("stroke",C.orange).attr("stroke-width",2.5);
rich(svg,823,282,d18("Soreq Cave (Israel) "),19.5);

// gradients
const defs = svg.append("defs");
function grad(id, yTop, yBot) {
  const g = defs.append("linearGradient").attr("id",id).attr("gradientUnits","userSpaceOnUse")
    .attr("x1",0).attr("x2",0).attr("y1",yTop).attr("y2",yBot);
  g.append("stop").attr("offset","0%").attr("stop-color","#000").attr("stop-opacity",1);
  g.append("stop").attr("offset","45%").attr("stop-color","#252525").attr("stop-opacity",0.95);
  g.append("stop").attr("offset","78%").attr("stop-color","#858585").attr("stop-opacity",0.6);
  g.append("stop").attr("offset","100%").attr("stop-color","#ffffff").attr("stop-opacity",0.1);
}
grad("gCal", yCal(1), yCal(0));
grad("gTra", yTra(1), yTra(0));

// calcite probability
const areaCal = d3.area().x(d=>x(d[0])).y0(yCal(0)).y1(d=>yCal(d[1])).curve(d3.curveMonotoneX);
svg.append("path").datum(calcite).attr("fill","url(#gCal)").attr("d",areaCal);
svg.append("path").datum(calcite).attr("fill","none").attr("stroke","#222").attr("stroke-width",1.6)
  .attr("d", d3.line().x(d=>x(d[0])).y(d=>yCal(d[1])).curve(d3.curveMonotoneX));
svg.append("text").attr("x",498).attr("y",524).attr("font-size",19.3).attr("font-style","italic")
  .attr("fill",C.text).text("Probability distribution of calcite vein ages");
svg.append("path").attr("stroke","#111").attr("stroke-width",2).attr("fill","none")
  .attr("d",`M${x(62.4)},531L${x(61.0)},553 M${x(85.75)},535L${x(90.0)},565`);

// Kumlubük bars
const kY = 589;
const gK = svg.append("g");
kumRed.forEach(([a,b]) => {
  gK.append("rect").attr("x",x(a)).attr("y",kY-2.5).attr("width",x(b)-x(a)).attr("height",5)
    .attr("fill",C.kRed).attr("stroke","#7d1f20").attr("stroke-width",0.7);
});
kumBlue.forEach(([wl,bl,bh,wh]) => {
  if (wl < bl || wh > bh) {
    gK.append("path").attr("stroke","#2b5a8d").attr("stroke-width",1).attr("fill","none")
      .attr("d",`M${x(wl)},${kY}H${x(wh)} M${x(wl)},${kY-3}V${kY+3} M${x(wh)},${kY-3}V${kY+3}`);
  }
  gK.append("rect").attr("x",x(bl)).attr("y",kY-2.5).attr("width",x(bh)-x(bl)).attr("height",5)
    .attr("fill",C.kBlue).attr("stroke","#244d78").attr("stroke-width",0.7);
});
gK.append("rect").attr("x",350).attr("y",612).attr("width",21).attr("height",6).attr("fill",C.kRed).attr("stroke","#7d1f20").attr("stroke-width",0.7);
gK.append("text").attr("x",377).attr("y",622).attr("font-size",19.8).attr("fill",C.text).text("Kumlubük vein (Uysal et al.2011)");
gK.append("rect").attr("x",717).attr("y",612).attr("width",21).attr("height",6).attr("fill",C.kBlue).attr("stroke","#244d78").attr("stroke-width",0.7);
gK.append("text").attr("x",743).attr("y",622).attr("font-size",19.8).attr("fill",C.text).text("Kumlubük - Amos veins (this study)");

// travertine probability
const areaTra = d3.area().x(d=>x(d[0])).y0(yTra(0)).y1(d=>yTra(d[1])).curve(d3.curveMonotoneX);
svg.append("path").datum(travertine).attr("fill","url(#gTra)").attr("d",areaTra);
svg.append("path").datum(travertine).attr("fill","none").attr("stroke","#222").attr("stroke-width",1.6)
  .attr("d", d3.line().x(d=>x(d[0])).y(d=>yTra(d[1])).curve(d3.curveMonotoneX));
svg.append("text").attr("x",202).attr("y",661).attr("font-size",19.2).attr("font-style","italic")
  .attr("fill",C.text).text("Probability distribution of travertine ages");
svg.append("path").attr("stroke","#111").attr("stroke-width",1.5).attr("fill","none")
  .attr("d",`M${x(27.8)},671L${x(27.0)},681 M${x(51.8)},670L${x(53.1)},682`);
const dY = 694;
deFilippis.forEach(([wl,bl,bh,wh]) => {
  if (wl < bl || wh > bh) {
    svg.append("path").attr("stroke","#333").attr("stroke-width",1).attr("fill","none")
      .attr("d",`M${x(wl)},${dY}H${x(wh)} M${x(wl)},${dY-3}V${dY+3} M${x(wh)},${dY-3}V${dY+3}`);
  }
  svg.append("rect").attr("x",x(bl)).attr("y",dY-2.5).attr("width",x(bh)-x(bl)).attr("height",5)
    .attr("fill","#fff").attr("stroke","#333").attr("stroke-width",0.9);
});
const uY = 706;
uysal2009.forEach(([a,b]) => {
  svg.append("rect").attr("x",x(a)).attr("y",uY-2.5).attr("width",x(b)-x(a)).attr("height",5).attr("fill","#111");
});
svg.append("path").attr("stroke","#111").attr("stroke-width",1)
  .attr("d",`M${x(85.0)},${uY}H${x(87.65)} M${x(85.0)},${uY-3}V${uY+3} M${x(87.65)},${uY-3}V${uY+3}`);
svg.append("rect").attr("x",863).attr("y",674).attr("width",19).attr("height",6).attr("fill","#fff").attr("stroke","#333").attr("stroke-width",1);
svg.append("text").attr("x",887).attr("y",684).attr("font-size",19.4).attr("fill",C.text).text("De Filippis et al. 2012");
svg.append("rect").attr("x",1083).attr("y",674).attr("width",19).attr("height",6).attr("fill","#111");
svg.append("text").attr("x",1107).attr("y",684).attr("font-size",19.6).attr("fill",C.text).text("Uysal et al. 2009");

// Dim cave
svg.append("path").datum(dim).attr("fill","none").attr("stroke",C.blue).attr("stroke-width",1.7)
  .attr("stroke-linejoin","round").attr("d", lineXY(yDim).curve(d3.curveMonotoneX));
const axDim = svg.append("g").attr("transform","translate(886,0)")
  .call(d3.axisRight(yDim).tickValues(dimTicks).tickFormat(plain).tickSizeInner(-6).tickSizeOuter(-6).tickPadding(8));
axDim.select(".domain").attr("stroke",C.blue).attr("stroke-width",2);
axDim.selectAll(".tick line").attr("stroke",C.blue).attr("stroke-width",1.5);
axDim.selectAll("text").attr("font-size",14).attr("fill",C.blue).attr("font-family",FONT);
svg.append("line").attr("x1",416).attr("x2",438).attr("y1",752).attr("y2",752).attr("stroke",C.blue).attr("stroke-width",2);
rich(svg,445,759,d18("Dim Cave (SW Turkey) "),19.5);
const usY = 895;
uSeriesAges.forEach((a,i) => {
  const e = uSeriesErr[i];
  svg.append("path").attr("stroke",C.blue).attr("stroke-width",1).attr("fill","none")
    .attr("d",`M${x(a-e)},${usY}H${x(a+e)} M${x(a-e)},${usY-2.5}V${usY+2.5} M${x(a+e)},${usY-2.5}V${usY+2.5}`);
  svg.append("rect").attr("x",x(a)-2.8).attr("y",usY-2.5).attr("width",5.6).attr("height",5).attr("fill",C.blue);
});
svg.append("text").attr("x",712).attr("y",887).attr("font-size",14).attr("fill",C.text).text("U-series ages");

// MIS
const misY = 922;
svg.append("line").attr("x1",x(10)).attr("x2",x(150.2)).attr("y1",misY).attr("y2",misY)
  .attr("stroke",C.mis).attr("stroke-width",1.8);
misBounds.forEach(b => {
  const bx = x(b);
  svg.append("path").attr("fill","none").attr("stroke",C.mis).attr("stroke-width",1.8)
    .attr("d",`M${bx-17},${misY-7}L${bx-2},${misY}L${bx-17},${misY+7} M${bx+17},${misY-7}L${bx+2},${misY}L${bx+17},${misY+7}`);
});
svg.selectAll(".mis").data(misLabels).join("text").attr("class","mis")
  .attr("x",(d,i)=>x(misLabelAges[i])).attr("y",938).attr("text-anchor","middle")
  .attr("font-size",15).attr("fill","#333").text(d=>d);

// NGRIP / GISP2
svg.append("path").datum(ngrip).attr("fill","none").attr("stroke",C.ngrip).attr("stroke-width",1.7)
  .attr("stroke-linejoin","round").attr("d", lineXY(yNg));
svg.append("path").datum(gisp2).attr("fill","none").attr("stroke",C.gisp).attr("stroke-width",1.7)
  .attr("stroke-linejoin","round").attr("d", lineXY(yNg));
const axNg = svg.append("g").attr("transform","translate(40,0)")
  .call(d3.axisLeft(yNg).tickValues(ngripTicks).tickFormat(plain).tickSize(5).tickPadding(4));
axNg.select(".domain").attr("stroke","#111").attr("stroke-width",2);
axNg.selectAll(".tick line").attr("stroke","#111").attr("stroke-width",1.5);
axNg.selectAll("text").attr("font-size",14).attr("font-weight","bold").attr("fill","#222").attr("font-family",FONT);
svg.selectAll(".gi").data(giLabels).join("text").attr("class","gi")
  .attr("x",d=>x(d[1])).attr("y",d=>yNg(d[2])).attr("dy","0.35em").attr("text-anchor","middle")
  .attr("font-size",12).attr("fill","#222").text(d=>d[0]);
svg.append("line").attr("x1",655).attr("x2",675).attr("y1",1115).attr("y2",1115).attr("stroke",C.ngrip).attr("stroke-width",2.5);
rich(svg,680,1122,d18("NGRIP "),21,{weight:"bold",fill:C.ngrip});
svg.append("line").attr("x1",822).attr("x2",842).attr("y1",1115).attr("y2",1115).attr("stroke",C.gisp).attr("stroke-width",2.5);
rich(svg,846,1122,d18("GISP2 "),21,{weight:"bold",fill:C.gisp});

// warm / cold indicator
svg.append("text").attr("x",1323).attr("y",999).attr("text-anchor","middle").attr("font-size",17).attr("fill","#111").text("warm");
svg.append("text").attr("x",1323).attr("y",1144).attr("text-anchor","middle").attr("font-size",17).attr("fill","#111").text("cold");
svg.append("path").attr("fill","none").attr("stroke","#000").attr("stroke-width",4)
  .attr("d","M1312,1027L1323,1014L1334,1027 M1312,1106L1323,1119L1334,1106");
svg.append("line").attr("x1",1323).attr("x2",1323).attr("y1",1030).attr("y2",1112)
  .attr("stroke","#000").attr("stroke-width",4).attr("stroke-dasharray","6,6");
</script>
</body></html>
